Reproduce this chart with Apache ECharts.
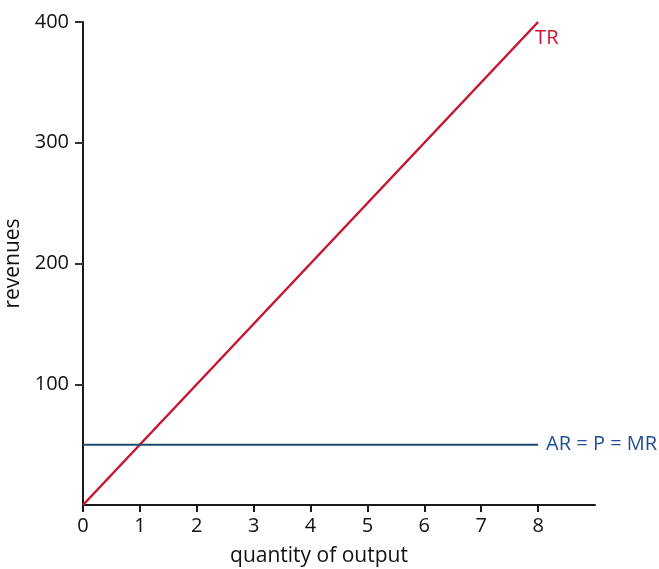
<!DOCTYPE html>
<html>
<head>
<meta charset="utf-8">
<script src="https://cdn.jsdelivr.net/npm/echarts@6/dist/echarts.min.js"></script>
<style>html,body{margin:0;padding:0;background:#fff;}#c{width:659px;height:569px;}</style>
</head>
<body>
<div id="c"></div>
<script>
const quantity = [0, 8];
const totalRevenue = [0, 400];
const averageRevenue = [50, 50];
const xTicks = [0, 1, 2, 3, 4, 5, 6, 7, 8];
const yTicks = [100, 200, 300, 400];
const trLabel = 'TR';
const arLabel = 'AR = P = MR';

const FONT = 'Open Sans';
const chart = echarts.init(document.getElementById('c'), null, {renderer: 'canvas'});
chart.setOption({
  animation: false,
  backgroundColor: '#fff',
  grid: {left: 83, right: 64, top: 22, bottom: 64, containLabel: false, outerBoundsMode: 'none'},
  xAxis: {
    type: 'value', min: 0, max: 9, interval: 1,
    name: 'quantity of output', nameLocation: 'middle', nameGap: 41,
    nameTextStyle: {fontFamily: FONT, fontSize: 21, color: '#111', padding: [0, 40, 0, 0]},
    axisLine: {lineStyle: {color: '#1a1a1a', width: 2}},
    axisTick: {show: true, length: 7, lineStyle: {color: '#1a1a1a', width: 2}, customValues: xTicks},
    axisLabel: {fontFamily: FONT, fontSize: 20, color: '#111', margin: 11, customValues: xTicks},
    splitLine: {show: false}
  },
  yAxis: {
    type: 'value', min: 0, max: 400, interval: 100,
    name: 'revenues', nameLocation: 'middle', nameGap: 57,
    nameTextStyle: {fontFamily: FONT, fontSize: 21, color: '#111'},
    axisLine: {show: true, lineStyle: {color: '#1a1a1a', width: 2}},
    axisTick: {show: true, length: 8, lineStyle: {color: '#333', width: 2}, customValues: yTicks},
    axisLabel: {fontFamily: FONT, fontSize: 20, color: '#111', margin: 14, customValues: yTicks},
    splitLine: {show: false}
  },
  series: [
    {
      type: 'line', name: trLabel, symbol: 'none',
      data: quantity.map((q, i) => [q, totalRevenue[i]]),
      lineStyle: {color: '#c8152f', width: 2.5},
      endLabel: {show: true, formatter: trLabel, color: '#d0112b', fontFamily: FONT, fontSize: 20, offset: [-3, 16], distance: 0}
    },
    {
      type: 'line', name: arLabel, symbol: 'none',
      data: quantity.map((q, i) => [q, averageRevenue[i]]),
      lineStyle: {color: '#1d4a72', width: 2},
      endLabel: {show: true, formatter: arLabel, color: '#1f4e96', fontFamily: FONT, fontSize: 20, distance: 8}
    }
  ]
});
</script>
</body>
</html>
